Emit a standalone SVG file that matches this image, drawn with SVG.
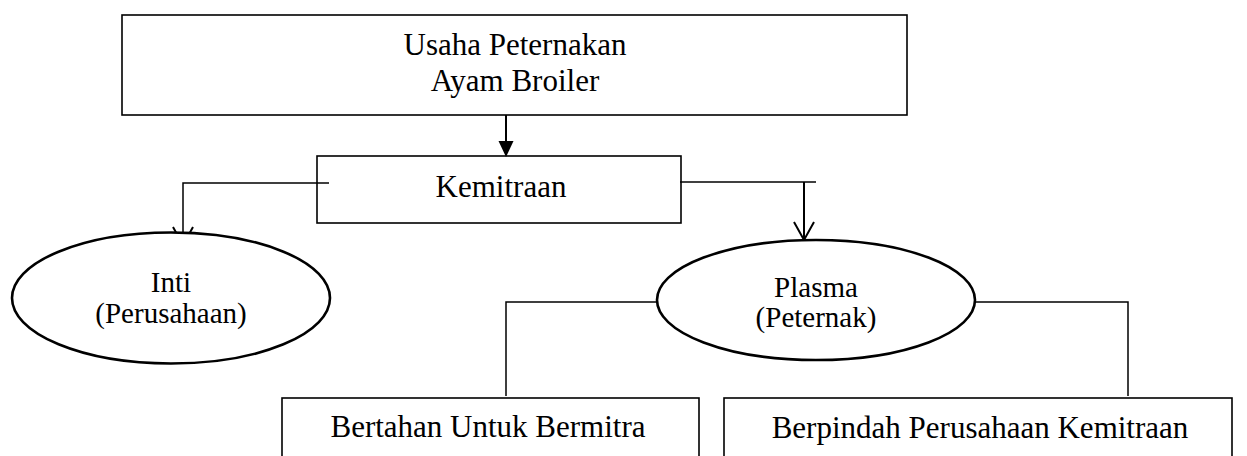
<svg xmlns="http://www.w3.org/2000/svg" width="1247" height="456" viewBox="0 0 1247 456">
<style>
.box{fill:none;stroke:#000;stroke-width:1.6}
.ell{fill:#fff;stroke:#000;stroke-width:2.6}
.t{font-size:31px;fill:#000;text-anchor:middle}
.te{font-size:29px;fill:#000;text-anchor:middle}
.c{fill:none;stroke:#000;stroke-width:1.5}
.a{fill:none;stroke:#000;stroke-width:2}
</style>
<rect width="1247" height="456" fill="#fff"/>
<g id="connectors">
<line class="a" x1="506" y1="115" x2="506" y2="142"/>
<path d="M498.5,141 L513.5,141 L506,157 Z" fill="#000"/>
<polyline class="c" points="329,183 183,183 183,240" stroke="#333"/>
<polyline class="a" points="173,227 183,245 193,227"/>
<polyline class="c" points="680,182 816,182" stroke="#444" stroke-width="2"/>
<line class="a" x1="804" y1="182" x2="804" y2="239"/>
<polyline class="a" points="794,222 804,240 814,222"/>
<polyline class="c" points="657,302 506,302 506,396"/>
<polyline class="c" points="975,302 1128,302 1128,396"/>
</g>
<g id="node-usaha">
<rect class="box" x="122" y="15" width="785" height="100"/>
<text class="t" x="515" y="55" font-family="Liberation Serif, serif">Usaha Peternakan</text>
<text class="t" x="515" y="91" font-family="Liberation Serif, serif">Ayam Broiler</text>
</g>
<g id="node-kemitraan">
<rect class="box" x="317" y="156" width="364" height="67"/>
<text class="t" x="501" y="197" font-family="Liberation Serif, serif">Kemitraan</text>
</g>
<g id="node-inti">
<ellipse class="ell" cx="171" cy="298" rx="159" ry="65.5"/>
<text class="te" x="171" y="292" font-family="Liberation Serif, serif">Inti</text>
<text class="te" x="171" y="323" font-family="Liberation Serif, serif">(Perusahaan)</text>
</g>
<g id="node-plasma">
<ellipse class="ell" cx="816" cy="300" rx="159" ry="60"/>
<text class="te" x="816" y="297" font-family="Liberation Serif, serif">Plasma</text>
<text class="te" x="816" y="327" font-family="Liberation Serif, serif">(Peternak)</text>
</g>
<g id="node-bertahan">
<rect class="box" x="282" y="398" width="417" height="70"/>
<text class="t" x="488" y="437" font-family="Liberation Serif, serif">Bertahan Untuk Bermitra</text>
</g>
<g id="node-berpindah">
<rect class="box" x="724" y="398" width="508" height="70"/>
<text class="t" x="980" y="438" font-family="Liberation Serif, serif">Berpindah Perusahaan Kemitraan</text>
</g>
</svg>
